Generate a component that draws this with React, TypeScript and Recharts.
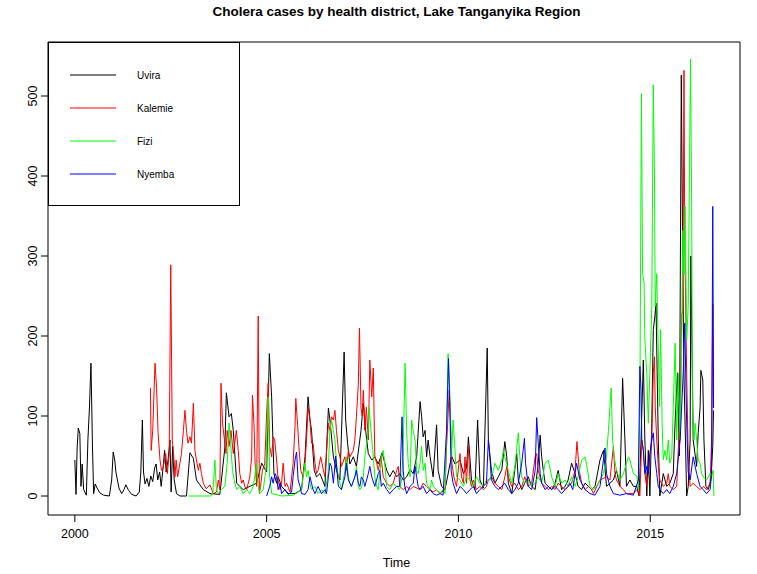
import React from "react";
import { LineChart, Line, XAxis, YAxis, ReferenceArea } from "recharts";

// Weekly cholera cases (time in decimal years, cases)
const uvira: [number, number][] = [
  [2000.0, 45], [2000.03, 2], [2000.06, 60], [2000.09, 85], [2000.13, 78], [2000.16, 12], [2000.19, 40], [2000.23, 8],
  [2000.3, 1], [2000.34, 70], [2000.38, 110], [2000.42, 166], [2000.46, 60], [2000.49, 3], [2000.53, 15], [2000.58, 10],
  [2000.65, 4], [2000.75, 1], [2000.9, 0], [2000.96, 20], [2001.0, 55], [2001.04, 45], [2001.07, 30], [2001.11, 20],
  [2001.15, 10], [2001.22, 3], [2001.28, 8], [2001.33, 14], [2001.4, 7], [2001.48, 2], [2001.6, 0], [2001.68, 5],
  [2001.72, 30], [2001.76, 95], [2001.79, 30], [2001.83, 15], [2001.88, 22], [2001.93, 12], [2001.98, 25], [2002.03, 18],
  [2002.08, 35], [2002.12, 40], [2002.16, 20], [2002.21, 30], [2002.25, 12], [2002.3, 35], [2002.34, 57], [2002.38, 30],
  [2002.43, 45], [2002.48, 70], [2002.51, 5], [2002.55, 62], [2002.59, 20], [2002.65, 3], [2002.74, 0], [2002.91, 0],
  [2003.0, 54], [2003.09, 47], [2003.17, 20], [2003.26, 14], [2003.35, 8], [2003.52, 3], [2003.78, 2], [2003.91, 60],
  [2003.95, 129], [2004.02, 99], [2004.08, 103], [2004.13, 82], [2004.22, 16], [2004.3, 12], [2004.39, 8], [2004.56, 12],
  [2004.74, 16], [2004.87, 41], [2005.0, 30], [2005.07, 178], [2005.13, 124], [2005.19, 28], [2005.26, 16], [2005.3, 24],
  [2005.39, 12], [2005.56, 3], [2005.74, 3], [2005.91, 8], [2006.0, 49], [2006.08, 124], [2006.13, 95], [2006.17, 82],
  [2006.24, 32], [2006.3, 24], [2006.39, 28], [2006.52, 12], [2006.61, 110], [2006.65, 95], [2006.74, 49], [2006.82, 32],
  [2006.91, 20], [2007.02, 180], [2007.06, 95], [2007.11, 66], [2007.17, 40], [2007.26, 49], [2007.34, 37], [2007.46, 82],
  [2007.52, 116], [2007.58, 82], [2007.65, 53], [2007.74, 45], [2007.82, 49], [2007.91, 40], [2008.01, 54], [2008.13, 32],
  [2008.21, 24], [2008.3, 32], [2008.39, 24], [2008.47, 28], [2008.56, 20], [2008.65, 24], [2008.74, 33], [2008.82, 28],
  [2008.91, 49], [2009.0, 118], [2009.04, 99], [2009.08, 74], [2009.13, 82], [2009.17, 49], [2009.21, 70], [2009.26, 49],
  [2009.34, 24], [2009.43, 89], [2009.47, 32], [2009.56, 12], [2009.65, 8], [2009.74, 30], [2009.82, 50], [2009.91, 40],
  [2010.04, 45], [2010.13, 28], [2010.21, 35], [2010.26, 74], [2010.34, 20], [2010.43, 8], [2010.5, 95], [2010.56, 20],
  [2010.65, 10], [2010.75, 185], [2010.78, 70], [2010.86, 32], [2010.95, 16], [2011.04, 24], [2011.13, 33], [2011.21, 68],
  [2011.26, 49], [2011.3, 16], [2011.39, 3], [2011.47, 33], [2011.52, 53], [2011.56, 20], [2011.65, 8], [2011.73, 16],
  [2011.82, 24], [2011.91, 12], [2012.0, 8], [2012.08, 41], [2012.13, 76], [2012.17, 49], [2012.21, 33], [2012.26, 16],
  [2012.34, 12], [2012.43, 8], [2012.52, 16], [2012.6, 32], [2012.69, 8], [2012.78, 12], [2012.86, 20], [2012.95, 41],
  [2013.04, 28], [2013.12, 12], [2013.21, 8], [2013.3, 16], [2013.39, 12], [2013.47, 8], [2013.56, 12], [2013.69, 45],
  [2013.78, 57], [2013.86, 12], [2014.04, 20], [2014.12, 32], [2014.21, 12], [2014.28, 147], [2014.34, 70], [2014.38, 12],
  [2014.47, 20], [2014.56, 12], [2014.65, 12], [2014.71, 0], [2014.76, 70], [2014.82, 170], [2014.86, 70], [2014.91, 0],
  [2014.95, 57], [2014.99, 0], [2015.04, 91], [2015.08, 208], [2015.12, 224], [2015.15, 241], [2015.18, 154], [2015.21, 70],
  [2015.25, 0], [2015.34, 28], [2015.43, 12], [2015.51, 16], [2015.6, 28], [2015.65, 95], [2015.71, 154], [2015.76, 50],
  [2015.81, 526], [2015.85, 278], [2015.88, 150], [2015.95, 0], [2015.99, 12], [2016.04, 70], [2016.06, 300], [2016.12, 70],
  [2016.21, 37], [2016.25, 79], [2016.3, 111], [2016.32, 157], [2016.37, 145], [2016.4, 70], [2016.45, 12], [2016.51, 8],
  [2016.58, 20], [2016.63, 62], [2016.65, 107],
];

const kalemie: [number, number][] = [
  [2001.97, 135], [2001.99, 57], [2002.03, 82], [2002.09, 166], [2002.13, 136], [2002.17, 79], [2002.22, 45], [2002.26, 32],
  [2002.3, 35], [2002.37, 53], [2002.41, 28], [2002.46, 53], [2002.5, 289], [2002.54, 70], [2002.58, 49], [2002.61, 24],
  [2002.64, 45], [2002.68, 24], [2002.78, 53], [2002.83, 82], [2002.87, 107], [2002.91, 82], [2002.95, 66], [2003.0, 74],
  [2003.04, 66], [2003.09, 116], [2003.13, 57], [2003.17, 45], [2003.22, 32], [2003.26, 41], [2003.3, 28], [2003.35, 16],
  [2003.39, 12], [2003.43, 9], [2003.52, 14], [2003.61, 3], [2003.69, 5], [2003.74, 20], [2003.78, 8], [2003.81, 141],
  [2003.85, 91], [2003.89, 74], [2003.94, 53], [2003.97, 82], [2004.02, 62], [2004.07, 82], [2004.13, 53], [2004.21, 82],
  [2004.26, 57], [2004.3, 28], [2004.35, 16], [2004.39, 20], [2004.43, 12], [2004.48, 8], [2004.56, 24], [2004.61, 49],
  [2004.63, 126], [2004.67, 90], [2004.7, 40], [2004.74, 12], [2004.78, 225], [2004.81, 3], [2004.84, 12], [2004.89, 32],
  [2004.95, 40], [2005.0, 104], [2005.04, 141], [2005.08, 62], [2005.13, 49], [2005.17, 74], [2005.21, 70], [2005.26, 45],
  [2005.3, 20], [2005.35, 8], [2005.39, 16], [2005.43, 41], [2005.48, 12], [2005.52, 16], [2005.61, 5], [2005.69, 41],
  [2005.74, 87], [2005.76, 122], [2005.81, 87], [2005.84, 62], [2005.89, 32], [2005.95, 24], [2006.0, 41], [2006.04, 70],
  [2006.08, 111], [2006.13, 95], [2006.17, 66], [2006.21, 66], [2006.26, 41], [2006.3, 28], [2006.34, 32], [2006.41, 49],
  [2006.48, 32], [2006.52, 24], [2006.61, 91], [2006.65, 82], [2006.69, 99], [2006.74, 95], [2006.78, 107], [2006.82, 82],
  [2006.87, 57], [2006.91, 49], [2006.95, 37], [2007.04, 49], [2007.08, 32], [2007.13, 57], [2007.17, 49], [2007.26, 57],
  [2007.3, 70], [2007.34, 99], [2007.39, 140], [2007.42, 210], [2007.46, 110], [2007.49, 100], [2007.52, 132], [2007.56, 82],
  [2007.6, 111], [2007.65, 70], [2007.69, 170], [2007.74, 124], [2007.78, 160], [2007.82, 49], [2007.87, 41], [2007.91, 32],
  [2007.98, 49], [2008.04, 24], [2008.13, 16], [2008.21, 12], [2008.3, 16], [2008.39, 32], [2008.43, 37], [2008.47, 12],
  [2008.56, 8], [2008.65, 12], [2008.74, 8], [2008.82, 12], [2009.0, 8], [2009.08, 16], [2009.17, 12], [2009.26, 8],
  [2009.34, 5], [2009.43, 8], [2009.52, 3], [2009.65, 8], [2009.69, 62], [2009.76, 132], [2009.8, 82], [2009.83, 41],
  [2009.88, 24], [2009.95, 12], [2010.04, 53], [2010.08, 24], [2010.13, 16], [2010.17, 49], [2010.21, 16], [2010.26, 62],
  [2010.3, 20], [2010.34, 12], [2010.39, 20], [2010.47, 8], [2010.56, 12], [2010.65, 8], [2010.73, 12], [2010.78, 20],
  [2010.86, 24], [2010.95, 16], [2011.04, 12], [2011.13, 8], [2011.21, 24], [2011.26, 37], [2011.3, 24], [2011.39, 12],
  [2011.47, 16], [2011.56, 8], [2011.65, 12], [2011.73, 24], [2011.82, 12], [2011.91, 16], [2012.0, 49], [2012.04, 53],
  [2012.08, 32], [2012.17, 16], [2012.26, 12], [2012.34, 8], [2012.43, 12], [2012.52, 8], [2012.6, 16], [2012.69, 12],
  [2012.78, 8], [2012.86, 12], [2012.95, 16], [2013.04, 32], [2013.09, 68], [2013.15, 32], [2013.21, 16], [2013.3, 8],
  [2013.39, 12], [2013.47, 8], [2013.52, 3], [2013.69, 20], [2013.86, 24], [2013.95, 20], [2014.04, 62], [2014.08, 28],
  [2014.12, 20], [2014.21, 12], [2014.3, 8], [2014.38, 3], [2014.56, 3], [2014.65, 8], [2014.73, 0], [2014.78, 70],
  [2014.82, 57], [2014.86, 28], [2014.91, 12], [2014.95, 28], [2014.99, 49], [2015.04, 70], [2015.08, 154], [2015.11, 174],
  [2015.13, 112], [2015.17, 70], [2015.21, 37], [2015.25, 20], [2015.34, 12], [2015.43, 16], [2015.47, 28], [2015.51, 12],
  [2015.6, 8], [2015.69, 12], [2015.78, 111], [2015.82, 228], [2015.85, 230], [2015.88, 532], [2015.9, 320], [2015.95, 153],
  [2015.99, 49], [2016.04, 12], [2016.12, 16], [2016.21, 12], [2016.3, 8], [2016.38, 12], [2016.47, 8], [2016.56, 16],
  [2016.6, 70], [2016.63, 240], [2016.65, 110],
];

const fizi: [number, number][] = [
  [2002.96, 0], [2003.3, 0], [2003.55, 0], [2003.6, 5], [2003.65, 45], [2003.69, 8], [2003.74, 3], [2003.82, 8],
  [2003.91, 12], [2003.97, 40], [2004.02, 91], [2004.06, 66], [2004.11, 32], [2004.17, 16], [2004.22, 8], [2004.3, 12],
  [2004.39, 3], [2004.48, 8], [2004.56, 3], [2004.65, 12], [2004.74, 41], [2004.78, 12], [2004.82, 3], [2004.91, 8],
  [2004.98, 32], [2005.04, 124], [2005.08, 24], [2005.13, 3], [2005.4, 0], [2005.7, 1], [2005.91, 8], [2005.95, 24],
  [2006.0, 41], [2006.04, 24], [2006.08, 32], [2006.13, 16], [2006.17, 8], [2006.26, 12], [2006.34, 3], [2006.43, 8],
  [2006.52, 3], [2006.6, 28], [2006.65, 82], [2006.69, 95], [2006.74, 82], [2006.78, 70], [2006.82, 41], [2006.87, 24],
  [2006.91, 16], [2006.95, 8], [2007.0, 20], [2007.04, 32], [2007.08, 49], [2007.13, 24], [2007.17, 16], [2007.21, 12],
  [2007.3, 24], [2007.34, 37], [2007.39, 12], [2007.43, 8], [2007.48, 12], [2007.52, 24], [2007.56, 49], [2007.65, 82],
  [2007.67, 111], [2007.72, 82], [2007.78, 49], [2007.82, 24], [2007.87, 12], [2007.91, 8], [2007.99, 49], [2008.04, 57],
  [2008.08, 40], [2008.13, 12], [2008.21, 8], [2008.3, 16], [2008.39, 12], [2008.47, 8], [2008.52, 20], [2008.56, 62],
  [2008.61, 166], [2008.65, 82], [2008.69, 41], [2008.74, 24], [2008.78, 95], [2008.82, 82], [2008.87, 70], [2008.91, 32],
  [2008.95, 28], [2009.0, 41], [2009.04, 62], [2009.08, 32], [2009.13, 41], [2009.17, 16], [2009.26, 8], [2009.3, 20],
  [2009.34, 12], [2009.43, 8], [2009.52, 3], [2009.6, 8], [2009.65, 3], [2009.69, 82], [2009.73, 178], [2009.78, 124],
  [2009.82, 49], [2009.86, 95], [2009.91, 57], [2009.95, 24], [2010.04, 20], [2010.13, 12], [2010.21, 24], [2010.3, 20],
  [2010.39, 12], [2010.47, 24], [2010.56, 16], [2010.65, 12], [2010.73, 20], [2010.82, 20], [2010.91, 32], [2010.95, 41],
  [2011.04, 32], [2011.13, 45], [2011.17, 57], [2011.21, 49], [2011.3, 32], [2011.34, 24], [2011.39, 16], [2011.47, 36],
  [2011.56, 79], [2011.6, 49], [2011.65, 24], [2011.73, 16], [2011.82, 20], [2011.91, 12], [2011.99, 16], [2012.08, 24],
  [2012.17, 16], [2012.26, 41], [2012.34, 45], [2012.43, 24], [2012.52, 12], [2012.6, 28], [2012.69, 16], [2012.78, 20],
  [2012.86, 12], [2012.95, 24], [2013.04, 12], [2013.12, 24], [2013.21, 45], [2013.3, 49], [2013.34, 40], [2013.43, 12],
  [2013.52, 8], [2013.6, 12], [2013.69, 20], [2013.78, 28], [2013.86, 50], [2013.91, 82], [2013.98, 135], [2014.02, 70],
  [2014.06, 49], [2014.12, 32], [2014.21, 20], [2014.3, 28], [2014.38, 41], [2014.43, 49], [2014.47, 45], [2014.56, 28],
  [2014.65, 25], [2014.69, 8], [2014.73, 111], [2014.77, 503], [2014.8, 278], [2014.84, 266], [2014.86, 195], [2014.91, 153],
  [2014.95, 91], [2014.99, 154], [2015.04, 237], [2015.08, 514], [2015.11, 404], [2015.13, 237], [2015.17, 278], [2015.2, 204],
  [2015.24, 112], [2015.27, 208], [2015.31, 91], [2015.34, 45], [2015.38, 57], [2015.43, 45], [2015.47, 70], [2015.51, 41],
  [2015.56, 49], [2015.6, 112], [2015.65, 191], [2015.69, 70], [2015.73, 153], [2015.78, 70], [2015.82, 195], [2015.85, 332],
  [2015.88, 278], [2015.91, 362], [2015.95, 195], [2015.99, 237], [2016.05, 546], [2016.08, 362], [2016.1, 112], [2016.14, 70],
  [2016.17, 91], [2016.21, 70], [2016.25, 45], [2016.3, 41], [2016.34, 28], [2016.38, 24], [2016.47, 20], [2016.56, 28],
  [2016.6, 24], [2016.64, 32], [2016.66, 0],
];

const nyemba: [number, number][] = [
  [2005.0, 0], [2005.08, 12], [2005.13, 24], [2005.17, 16], [2005.22, 28], [2005.26, 24], [2005.3, 8], [2005.35, 16],
  [2005.39, 3], [2005.48, 8], [2005.56, 2], [2005.65, 5], [2005.69, 24], [2005.74, 45], [2005.78, 55], [2005.82, 20],
  [2005.87, 12], [2005.91, 3], [2006.0, 2], [2006.08, 8], [2006.13, 24], [2006.17, 16], [2006.21, 8], [2006.26, 3],
  [2006.34, 12], [2006.43, 3], [2006.52, 8], [2006.56, 3], [2006.61, 24], [2006.65, 41], [2006.69, 37], [2006.74, 16],
  [2006.8, 50], [2006.87, 12], [2006.95, 8], [2007.04, 24], [2007.08, 41], [2007.13, 20], [2007.21, 12], [2007.3, 24],
  [2007.34, 32], [2007.39, 16], [2007.43, 12], [2007.47, 24], [2007.52, 20], [2007.56, 12], [2007.65, 28], [2007.69, 37],
  [2007.74, 24], [2007.82, 12], [2007.91, 28], [2007.95, 32], [2007.99, 12], [2008.04, 16], [2008.13, 8], [2008.21, 3],
  [2008.3, 8], [2008.39, 12], [2008.47, 12], [2008.53, 99], [2008.56, 32], [2008.6, 12], [2008.65, 3], [2008.74, 12],
  [2008.82, 16], [2008.87, 37], [2008.91, 24], [2008.95, 12], [2009.0, 8], [2009.08, 12], [2009.17, 3], [2009.26, 8],
  [2009.34, 3], [2009.43, 1], [2009.52, 3], [2009.6, 1], [2009.69, 82], [2009.74, 172], [2009.78, 103], [2009.81, 32],
  [2009.86, 16], [2009.95, 3], [2010.04, 12], [2010.13, 8], [2010.21, 3], [2010.3, 8], [2010.39, 12], [2010.47, 3],
  [2010.56, 8], [2010.65, 12], [2010.73, 16], [2010.78, 70], [2010.82, 49], [2010.86, 20], [2010.95, 12], [2011.04, 8],
  [2011.13, 12], [2011.21, 16], [2011.3, 8], [2011.39, 3], [2011.47, 8], [2011.56, 16], [2011.65, 41], [2011.72, 72],
  [2011.75, 41], [2011.82, 12], [2011.91, 8], [2012.0, 32], [2012.04, 98], [2012.08, 66], [2012.13, 28], [2012.17, 16],
  [2012.26, 8], [2012.34, 12], [2012.43, 8], [2012.52, 12], [2012.6, 8], [2012.69, 3], [2012.78, 8], [2012.86, 12],
  [2012.91, 16], [2012.98, 8], [2013.08, 41], [2013.17, 20], [2013.3, 8], [2013.43, 3], [2013.56, 1], [2013.69, 12],
  [2013.82, 60], [2013.86, 28], [2013.95, 12], [2014.04, 3], [2014.21, 1], [2014.38, 3], [2014.56, 1], [2014.69, 20],
  [2014.73, 162], [2014.76, 132], [2014.78, 70], [2014.82, 57], [2014.86, 28], [2014.91, 37], [2014.95, 28], [2014.99, 53],
  [2015.04, 70], [2015.08, 79], [2015.12, 49], [2015.17, 28], [2015.21, 12], [2015.25, 8], [2015.34, 3], [2015.43, 8],
  [2015.51, 3], [2015.6, 12], [2015.69, 28], [2015.78, 70], [2015.86, 154], [2015.9, 216], [2015.95, 90], [2015.99, 30],
  [2016.04, 20], [2016.12, 49], [2016.21, 28], [2016.3, 12], [2016.38, 8], [2016.47, 3], [2016.56, 8], [2016.6, 28],
  [2016.63, 362], [2016.65, 110],
];

const seriesNames = ["Uvira", "Kalemie", "Fizi", "Nyemba"];
const seriesColors = ["#000000", "#ff0000", "#00ff00", "#0000ff"];
const seriesData = [uvira, kalemie, fizi, nyemba];

const xTicks = [2000, 2005, 2010, 2015];
const yTicks = [0, 100, 200, 300, 400, 500];
const X_MIN = 1999.3;
const X_MAX = 2017.34;
const Y_MIN = -23.75;
const Y_MAX = 567.5;

const FONT = "'Liberation Sans', Arial, Helvetica, sans-serif";

const toRows = (arr: [number, number][]) => arr.map(([t, v]) => ({ t, v }));

const YTick = (props: any) => {
  const { x, y, payload } = props;
  return (
    <text
      x={x}
      y={y}
      transform={`rotate(-90, ${x}, ${y})`}
      textAnchor="middle"
      fontSize={12.5}
      fontFamily={FONT}
      fill="#000"
    >
      {payload.value}
    </text>
  );
};

const XTick = (props: any) => {
  const { x, y, payload } = props;
  return (
    <text x={x} y={y} dy="0.8em" textAnchor="middle" fontSize={12.5} fontFamily={FONT} fill="#000">
      {payload.value}
    </text>
  );
};

export default function App() {
  return (
    <div style={{ position: "absolute", left: 0, top: 0, width: 757, height: 574, background: "#fff" }}>
      <div
        style={{
          position: "absolute",
          left: 0,
          top: 4,
          width: 757,
          textAlign: "center",
          fontFamily: FONT,
          fontWeight: "bold",
          fontSize: 13.5,
          color: "#000",
          paddingLeft: 36,
          boxSizing: "border-box",
        }}
      >
        Cholera cases by health district, Lake Tanganyika Region
      </div>
      <LineChart width={757} height={574} margin={{ top: 42, right: 17, bottom: 29, left: 8 }}>
        <XAxis
          dataKey="t"
          type="number"
          domain={[X_MIN, X_MAX]}
          ticks={xTicks}
          allowDataOverflow
          axisLine={false}
          tickSize={7}
          tickMargin={6}
          height={30}
          tick={<XTick />}
          stroke="#000"
        />
        <YAxis
          type="number"
          domain={[Y_MIN, Y_MAX]}
          ticks={yTicks}
          allowDataOverflow
          axisLine={false}
          tickSize={7}
          tickMargin={4}
          width={40}
          tick={<YTick />}
          stroke="#000"
        />
        {seriesData.map((d, i) => (
          <Line
            key={seriesNames[i]}
            data={toRows(d)}
            dataKey="v"
            type="linear"
            stroke={seriesColors[i]}
            strokeWidth={1}
            dot={false}
            activeDot={false}
            isAnimationActive={false}
          />
        ))}
        <ReferenceArea
          x1={X_MIN}
          x2={X_MAX}
          y1={Y_MIN}
          y2={Y_MAX}
          fill="none"
          fillOpacity={0}
          stroke="#000"
          strokeWidth={1}
          ifOverflow="visible"
        />
      </LineChart>
      <div
        style={{
          position: "absolute",
          left: 0,
          top: 556,
          width: 757,
          textAlign: "center",
          paddingLeft: 36,
          boxSizing: "border-box",
          fontFamily: FONT,
          fontSize: 12.5,
          color: "#000",
        }}
      >
        Time
      </div>
      <div
        style={{
          position: "absolute",
          left: 48,
          top: 42,
          width: 192,
          height: 164,
          border: "1px solid #000",
          boxSizing: "border-box",
          background: "#fff",
        }}
      >
        <svg width={190} height={162}>
          {seriesNames.map((name, i) => (
            <g key={name}>
              <line x1={21} x2={67} y1={32 + i * 33} y2={32 + i * 33} stroke={seriesColors[i]} strokeWidth={1} />
              <text x={88} y={32 + i * 33} dy="0.35em" fontSize={10} fontFamily={FONT} fill="#000">
                {name}
              </text>
            </g>
          ))}
        </svg>
      </div>
    </div>
  );
}
